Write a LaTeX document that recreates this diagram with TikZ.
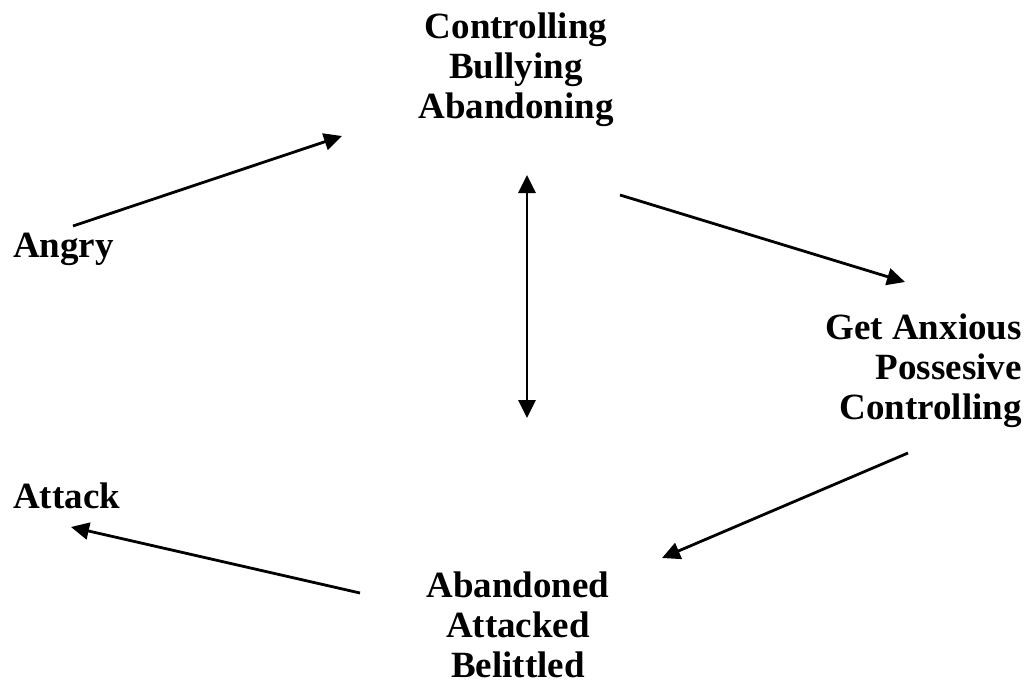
\documentclass[tikz,border=0pt]{standalone}
\usepackage{fontspec}
\setmainfont{Liberation Serif}
\usetikzlibrary{arrows.meta}
\begin{document}
\begin{tikzpicture}[x=1pt,y=-1pt,
  lbl/.style={inner sep=0pt,font=\fontsize{37}{40}\selectfont\bfseries},
  link/.style={line width=2.8pt,-{Triangle[length=18pt,width=17pt]}},
  twoway/.style={line width=2.8pt,{Triangle[length=18pt,width=17pt]}-{Triangle[length=18pt,width=17pt]}}]
  \useasboundingbox (0,0) rectangle (1033,685);

  % text blocks
  \node[lbl,align=center,anchor=north] (top) at (516,13) {Controlling\\Bullying\\Abandoning};
  \node[lbl,anchor=base west] (angry) at (13,257) {Angry};
  \node[lbl,align=right,anchor=north east] (right) at (1022,314) {Get Anxious\\Possesive\\Controlling};
  \node[lbl,anchor=base west] (attack) at (13,508) {Attack};
  \node[lbl,align=center,anchor=north] (bottom) at (518,572) {Abandoned\\Attacked\\Belittled};

  % arrow end points
  \coordinate (angryOut) at (73,226);
  \coordinate (topIn) at (342,136);
  \coordinate (topOut) at (620,195);
  \coordinate (rightIn) at (905,282);
  \coordinate (rightOut) at (908,453);
  \coordinate (bottomIn) at (662,558);
  \coordinate (bottomOut) at (360,593);
  \coordinate (attackIn) at (71,527);
  \coordinate (vUp) at (527,175);
  \coordinate (vDown) at (527,418);

  % connectors
  \draw[link] (angryOut) -- (topIn);
  \draw[link] (topOut) -- (rightIn);
  \draw[link] (rightOut) -- (bottomIn);
  \draw[link] (bottomOut) -- (attackIn);
  \draw[twoway] (vUp) -- (vDown);
\end{tikzpicture}
\end{document}
